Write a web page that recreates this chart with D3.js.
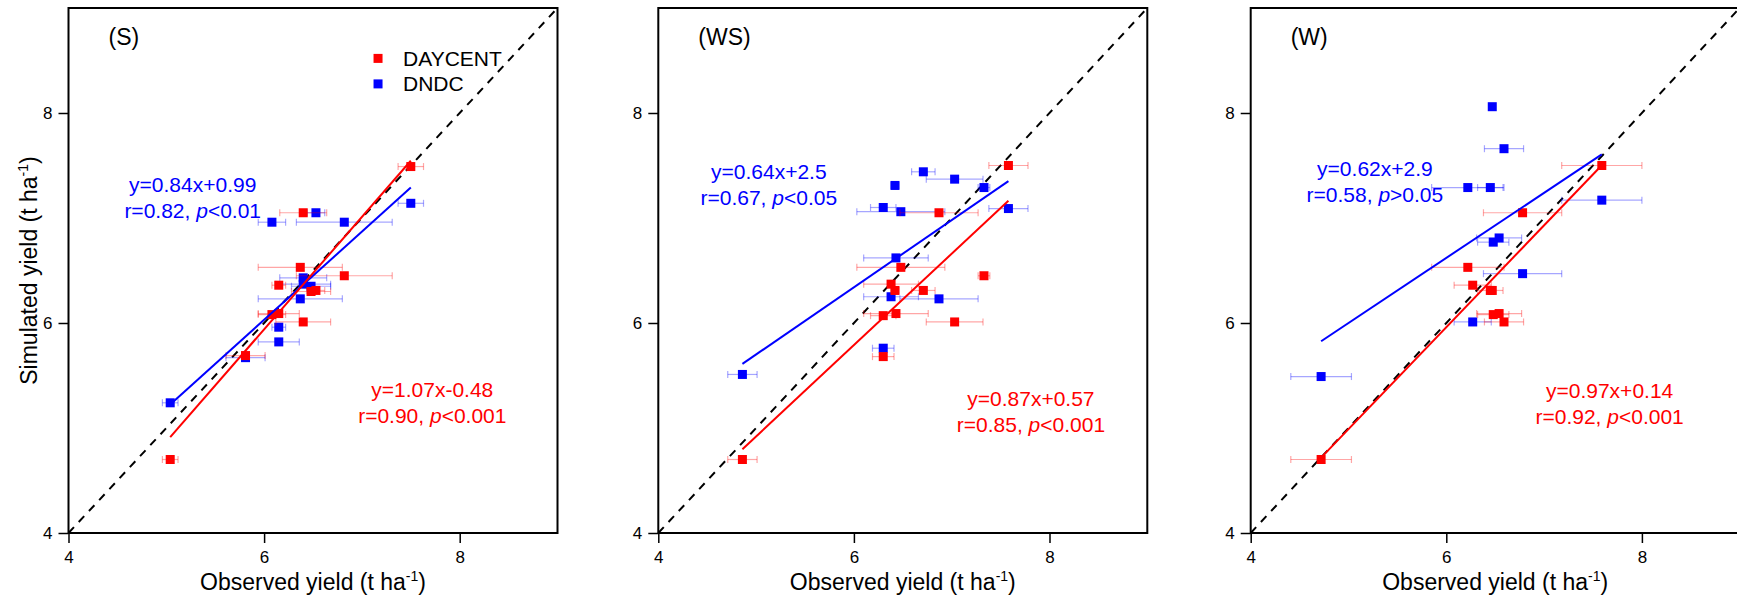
<!DOCTYPE html>
<html lang="en">
<head>
<meta charset="UTF-8">
<title>Observed vs simulated yield</title>
<script src="https://cdn.jsdelivr.net/npm/d3@7"></script>
<style>
    body { margin: 0; background: #fff; }
    svg { display: block; font-family: "Liberation Sans", Arial, sans-serif; }
</style>
</head>
<body>
<svg id="chart" width="1737" height="601"></svg>
<script>
// panel titles
var panelNames = ["(S)", "(WS)", "(W)"];
var seriesNames = ["DAYCENT", "DNDC"];
var tickValues = [4, 6, 8];

// (S) observed yield, its std, simulated yields (t ha-1)
var observedS = [7.50, 6.53, 6.08, 6.82, 6.40, 6.40, 6.48, 6.37, 6.15, 6.15, 5.81, 5.04];
var obsErrS   = [0.13, 0.09, 0.14, 0.49, 0.24, 0.28, 0.20, 0.43, 0.07, 0.21, 0.20, 0.08];
var daycentS  = [7.49, 6.31, 6.08, 6.45, 7.05, 6.01, 6.30, 6.53, 6.36, 6.09, 5.69, 4.70];
var dndcS     = [7.14, 7.05, 6.96, 6.96, 6.43, 6.37, 6.35, 6.23, 5.96, 5.82, 5.67, 5.24];

// (WS)
var observedWS = [7.58, 6.87, 6.48, 7.33, 6.38, 6.42, 6.71, 6.30, 6.43, 7.03, 6.30, 4.86];
var obsErrWS   = [0.20, 0.40, 0.45, 0.06, 0.28, 0.04, 0.12, 0.13, 0.33, 0.29, 0.11, 0.15];
var daycentWS  = [7.50, 7.05, 6.53, 6.45, 6.37, 6.31, 6.31, 6.07, 6.09, 6.01, 5.68, 4.70];
var dndcWS     = [7.09, 6.23, 7.06, 7.29, 6.25, 7.31, 7.44, 7.10, 6.62, 7.37, 5.76, 5.51];

// (W)
var observedW = [7.59, 6.78, 6.22, 6.27, 6.45, 6.47, 6.48, 6.54, 6.59, 4.72];
var obsErrW   = [0.41, 0.40, 0.37, 0.19, 0.13, 0.02, 0.16, 0.23, 0.20, 0.31];
var daycentW  = [7.50, 7.05, 6.53, 6.36, 6.31, 6.31, 6.08, 6.09, 6.01, 4.70];
var dndcW     = [7.17, 6.47, 7.29, 6.01, 7.29, 8.06, 6.77, 6.81, 7.66, 5.49];

// fitted lines [slope, intercept] and stats, per panel
var fitDaycent = [[1.07, -0.48], [0.87, 0.57], [0.97, 0.14]];
var fitDndc    = [[0.84, 0.99], [0.64, 2.5], [0.62, 2.9]];
var eqDaycent  = ["y=1.07x-0.48", "y=0.87x+0.57", "y=0.97x+0.14"];
var eqDndc     = ["y=0.84x+0.99", "y=0.64x+2.5", "y=0.62x+2.9"];
var rDaycent   = ["r=0.90, ", "r=0.85, ", "r=0.92, "];
var rDndc      = ["r=0.82, ", "r=0.67, ", "r=0.58, "];
var pDaycent   = ["<0.001", "<0.001", "<0.001"];
var pDndc      = ["<0.01", "<0.05", ">0.05"];

var panels = [
    { name: panelNames[0], obs: observedS, err: obsErrS, sims: [daycentS, dndcS] },
    { name: panelNames[1], obs: observedWS, err: obsErrWS, sims: [daycentWS, dndcWS] },
    { name: panelNames[2], obs: observedW, err: obsErrW, sims: [daycentW, dndcW] }
];

// layout
var colors = ["#ff0000", "#0000ff"];
var panelLeft = [68.5, 658.3, 1250.7];
var plotTop = 8, pw = 489, ph = 525;
// where the equations sit, in data units [x, y of first line]
var dndcTextPos = [[5.27, 7.32], [5.13, 7.44], [5.27, 7.47]];
var daycentTextPos = [[7.72, 5.37], [7.81, 5.28], [7.67, 5.36]];

var svg = d3.select("#chart");

var x = d3.scaleLinear().domain([4, 9]).range([0, pw]);
var y = d3.scaleLinear().domain([4, 9]).range([ph, 0]);

panels.forEach(function (p, pi) {
    var g = svg.append("g")
        .attr("transform", "translate(" + panelLeft[pi] + "," + plotTop + ")");

    // 1:1 line
    g.append("line")
        .attr("x1", x(4)).attr("y1", y(4))
        .attr("x2", x(9)).attr("y2", y(9))
        .attr("stroke", "#000")
        .attr("stroke-width", 2)
        .attr("stroke-dasharray", "8,7");

    // series: DNDC under DAYCENT
    [1, 0].forEach(function (si) {
        var pts = p.obs.map(function (o, i) {
            return { x: o, e: p.err[i], y: p.sims[si][i] };
        });
        var sg = g.append("g").attr("class", "series-" + seriesNames[si]);
        var bars = sg.append("g")
            .attr("stroke", colors[si])
            .attr("stroke-opacity", 0.35)
            .attr("stroke-width", 1.2);
        bars.selectAll("line.bar").data(pts).enter().append("line")
            .attr("class", "bar")
            .attr("x1", function (d) { return x(d.x - d.e); })
            .attr("x2", function (d) { return x(d.x + d.e); })
            .attr("y1", function (d) { return y(d.y); })
            .attr("y2", function (d) { return y(d.y); });
        [-1, 1].forEach(function (s) {
            bars.selectAll("line.cap" + s).data(pts).enter().append("line")
                .attr("class", "cap" + s)
                .attr("x1", function (d) { return x(d.x + s * d.e); })
                .attr("x2", function (d) { return x(d.x + s * d.e); })
                .attr("y1", function (d) { return y(d.y) - 3.5; })
                .attr("y2", function (d) { return y(d.y) + 3.5; });
        });
        sg.selectAll("rect").data(pts).enter().append("rect")
            .attr("x", function (d) { return x(d.x) - 4.5; })
            .attr("y", function (d) { return y(d.y) - 4.5; })
            .attr("width", 9)
            .attr("height", 9)
            .attr("fill", colors[si]);
    });

    // regression lines over obs range
    var xr = d3.extent(p.obs);
    [fitDndc[pi], fitDaycent[pi]].forEach(function (f, k) {
        g.append("line")
            .attr("x1", x(xr[0])).attr("y1", y(f[0] * xr[0] + f[1]))
            .attr("x2", x(xr[1])).attr("y2", y(f[0] * xr[1] + f[1]))
            .attr("stroke", colors[1 - k])
            .attr("stroke-width", 2);
    });

    // equations
    function eqText(pos, eq, r, pv, col) {
        var t = g.append("g")
            .attr("fill", col)
            .attr("font-size", 21)
            .attr("text-anchor", "middle");
        t.append("text")
            .attr("x", x(pos[0])).attr("y", y(pos[1]))
            .attr("dy", "0.35em")
            .text(eq);
        var t2 = t.append("text")
            .attr("x", x(pos[0])).attr("y", y(pos[1]) + 26)
            .attr("dy", "0.35em");
        t2.append("tspan").text(r);
        t2.append("tspan").attr("font-style", "italic").text("p");
        t2.append("tspan").text(pv);
    }
    eqText(dndcTextPos[pi], eqDndc[pi], rDndc[pi], pDndc[pi], colors[1]);
    eqText(daycentTextPos[pi], eqDaycent[pi], rDaycent[pi], pDaycent[pi], colors[0]);

    // axes
    var xAxis = g.append("g")
        .attr("transform", "translate(0," + ph + ")")
        .call(d3.axisBottom(x).tickValues(tickValues).tickSize(10).tickPadding(8).tickFormat(d3.format("d")));
    var yAxis = g.append("g")
        .call(d3.axisLeft(y).tickValues(tickValues).tickSize(10).tickPadding(6).tickFormat(d3.format("d")));
    [xAxis, yAxis].forEach(function (a) {
        a.select(".domain").remove();
        a.selectAll("line").attr("stroke", "#000").attr("stroke-width", 1.5);
        a.selectAll("text")
            .attr("fill", "#000")
            .attr("font-size", 17)
            .attr("font-family", "'Liberation Sans', Arial, sans-serif");
    });

    // frame
    g.append("rect")
        .attr("width", pw).attr("height", ph)
        .attr("fill", "none")
        .attr("stroke", "#000")
        .attr("stroke-width", 2);

    // panel label
    g.append("text")
        .attr("x", 40).attr("y", y(8.72))
        .attr("dy", "0.35em")
        .attr("font-size", 23)
        .text(p.name);

    // x title
    var xt = g.append("text")
        .attr("x", pw / 2).attr("y", 590 - plotTop)
        .attr("text-anchor", "middle")
        .attr("font-size", 23);
    xt.append("tspan").text("Observed yield (t ha");
    xt.append("tspan").attr("font-size", 14).attr("dy", -9).text("-1");
    xt.append("tspan").attr("dy", 9).text(")");

    if (pi === 0) {
        var yt = g.append("text")
            .attr("transform", "translate(" + (37 - panelLeft[0]) + "," + (ph / 2) + ") rotate(-90)")
            .attr("text-anchor", "middle")
            .attr("font-size", 23);
        yt.append("tspan").text("Simulated yield (t ha");
        yt.append("tspan").attr("font-size", 14).attr("dy", -9).text("-1");
        yt.append("tspan").attr("dy", 9).text(")");

        // legend
        var lg = g.append("g")
            .attr("transform", "translate(" + x(7.165) + "," + y(8.52) + ")");
        seriesNames.forEach(function (n, i) {
            lg.append("rect")
                .attr("x", -4.5).attr("y", i * 25.5 - 4.5)
                .attr("width", 9).attr("height", 9)
                .attr("fill", colors[i]);
            lg.append("text")
                .attr("x", 25).attr("y", i * 25.5)
                .attr("dy", "0.35em")
                .attr("font-size", 21)
                .text(n);
        });
    }
});
</script>
</body>
</html>
